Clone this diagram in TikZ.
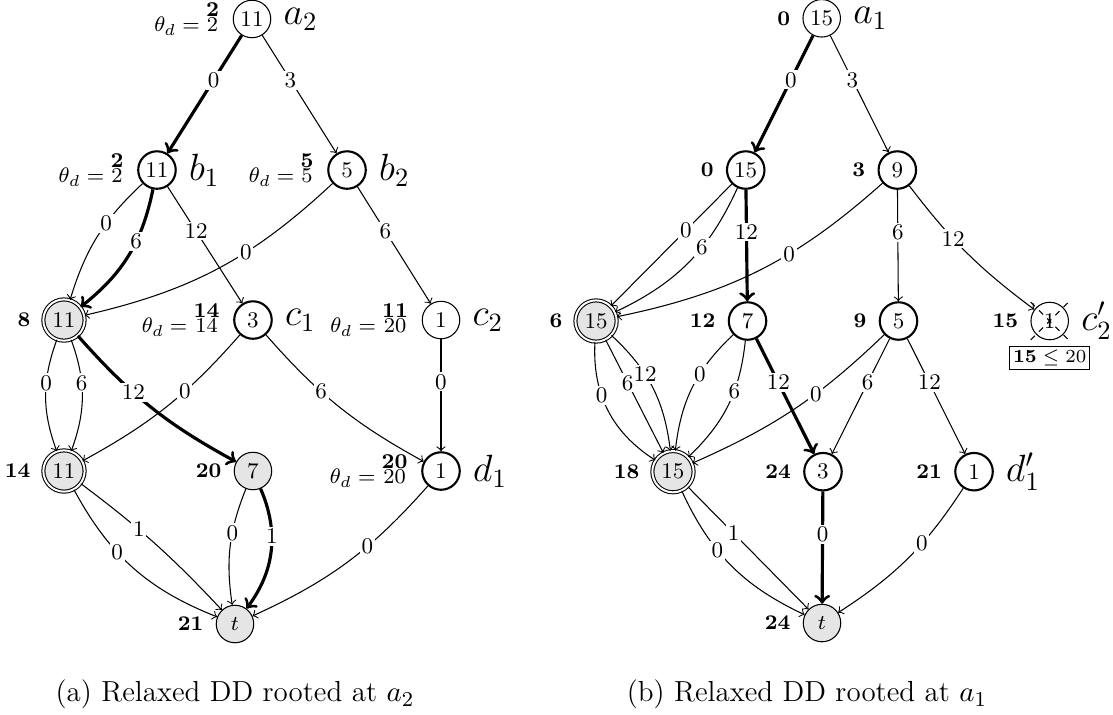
\documentclass[tikz,border=0pt]{standalone}
\usepackage{amsmath, amsfonts, amssymb}
\usetikzlibrary{shapes.misc}
\newcommand{\thd}[2]{$\theta_d={}$\vbox{\baselineskip=5.9pt\lineskiplimit=-10pt\lineskip=0pt\halign{\hfil##\hfil\cr$\mathbf{#1}$\cr$#2$\cr}}}

\begin{document}
\begin{tikzpicture}[
                vtx/.style={circle, draw, minimum size=0.5cm, inner sep=0pt, font=\fontsize{8.5}{10}\selectfont},
                vtxb/.style={vtx, thick},
                vtxg/.style={vtx, fill=gray!20},
                vtxd/.style={vtx, minimum size=0.55cm, double, double distance=0.75pt, fill=gray!20},
                edg/.style={->},
                edgb/.style={->, very thick},
                lab/.style={fill=white, inner sep=0.7pt, pos=0.38, font=\fontsize{8.5}{10}\selectfont},
                vl/.style={font=\fontsize{7.9}{9.5}\selectfont\bfseries, inner sep=1pt, xshift=-3.5pt},
                nm/.style={font=\fontsize{14.4}{17}\selectfont, inner sep=0.5pt, xshift=4pt},
                th/.style={font=\fontsize{8}{9.5}\selectfont, inner sep=1pt, xshift=-4pt},
                bx/.style={draw, inner sep=1.3pt, font=\fontsize{6.9}{8}\selectfont}]
                \useasboundingbox (0,0) rectangle (14.84,-9.533);

                \node[vtx, label={[th]left:\thd{2}{2}}, label={[nm]right:$a_2$}] (a2) at (3.36,-0.253) {11};
                \node[vtxb, label={[th]left:\thd{2}{2}}, label={[nm]right:$b_1$}] (b1) at (2.093,-2.267) {11};
                \node[vtxb, label={[th]left:\thd{5}{5}}, label={[nm]right:$b_2$}] (b2) at (4.627,-2.267) {5};
                \node[vtxd, label={[vl]left:8}] (L8) at (0.853,-4.267) {11};
                \node[vtxb, label={[th]left:\thd{14}{14}}, label={[nm]right:$c_1$}] (c1) at (3.373,-4.267) {3};
                \node[vtx, label={[th]left:\thd{11}{20}}, label={[nm]right:$c_2$}] (c2) at (5.88,-4.267) {1};
                \node[vtxd, label={[vl]left:14}] (L14) at (0.853,-6.28) {11};
                \node[vtxg, label={[vl]left:20}] (L20) at (3.373,-6.28) {7};
                \node[vtxb, label={[th]left:\thd{20}{20}}, label={[nm]right:$d_1$}] (d1) at (5.88,-6.28) {1};
                \node[vtxg, label={[vl]left:21}] (tL) at (3.133,-8.32) {$t$};

                \draw[edgb] (a2) -- node[lab]{0} (b1);
                \draw[edg] (a2) -- node[lab]{3} (b2);
                \draw[edg] (b1) to[bend right=15] node[lab]{0} (L8);
                \draw[edgb] (b1) to[bend left=20] node[lab]{6} (L8);
                \draw[edg] (b1) -- node[lab]{12} (c1);
                \draw[edg] (b2) to[bend left=15] node[lab]{0} (L8);
                \draw[edg] (b2) -- node[lab]{6} (c2);
                \draw[edg] (L8) to[bend right=20] node[lab]{0} (L14);
                \draw[edg] (L8) to[bend left=20] node[lab]{6} (L14);
                \draw[edgb] (L8) to[bend right=10] node[lab]{12} (L20);
                \draw[edg] (c1) to[bend left=10] node[lab]{0} (L14);
                \draw[edg] (c1) to[bend right=10] node[lab]{6} (d1);
                \draw[edg] (c2) -- node[lab]{0} (d1);
                \draw[edg] (L14) to[bend right=20] node[lab]{0} (tL);
                \draw[edg] (L14) to[bend left=5] node[lab]{1} (tL);
                \draw[edg] (L20) to[bend right=15] node[lab]{0} (tL);
                \draw[edgb] (L20) to[bend left=30] node[lab]{1} (tL);
                \draw[edg] (d1) to[bend left=12] node[lab]{0} (tL);

                \node[vtx, label={[vl]left:0}, label={[nm]right:$a_1$}] (a1) at (10.956,-0.244) {15};
                \node[vtxb, label={[vl]left:0}] (r0) at (9.943,-2.267) {15};
                \node[vtxb, label={[vl]left:3}] (r3) at (11.964,-2.267) {9};
                \node[vtxd, label={[vl]left:6}] (r6) at (7.947,-4.28) {15};
                \node[vtxb, label={[vl]left:12}] (r12) at (9.967,-4.28) {7};
                \node[vtxb, label={[vl]left:9}] (r9) at (11.98,-4.28) {5};
                \node[vtx, label={[vl]left:15}, label={[nm]right:$c_2'$}] (r15) at (13.996,-4.28) {1};
                \node[cross out, draw, dash pattern=on 2.2pt off 2.2pt, minimum size=0.49cm, inner sep=0pt] (r15x) at (r15) {};
                \node[bx] (r15b) at (13.996,-4.777) {$\mathbf{15}\le 20$};
                \node[vtxd, label={[vl]left:18}] (r18) at (8.973,-6.289) {15};
                \node[vtxb, label={[vl]left:24}] (r24) at (10.973,-6.289) {3};
                \node[vtxb, label={[vl]left:21}, label={[nm]right:$d_1'$}] (r21) at (12.987,-6.289) {1};
                \node[vtxg, label={[vl]left:24}] (tR) at (10.96,-8.307) {$t$};

                \draw[edgb] (a1) -- node[lab]{0} (r0);
                \draw[edg] (a1) -- node[lab]{3} (r3);
                \draw[edg] (r0) -- node[lab]{0} (r6);
                \draw[edg] (r0) to[bend left=20] node[lab]{6} (r6);
                \draw[edgb] (r0) -- node[lab]{12} (r12);
                \draw[edg] (r3) to[bend left=15] node[lab]{0} (r6);
                \draw[edg] (r3) -- node[lab]{6} (r9);
                \draw[edg] (r3) to[bend right=8] node[lab]{12} (r15);
                \draw[edg] (r6) to[bend right=30] node[lab]{0} (r18);
                \draw[edg] (r6) -- node[lab]{6} (r18);
                \draw[edg] (r6) to[bend left=20] node[lab]{12} (r18);
                \draw[edg] (r12) to[bend right=20] node[lab]{0} (r18);
                \draw[edg] (r12) to[bend left=20] node[lab]{6} (r18);
                \draw[edgb] (r12) -- node[lab]{12} (r24);
                \draw[edg] (r9) to[bend left=10] node[lab]{0} (r18);
                \draw[edg] (r9) -- node[lab]{6} (r24);
                \draw[edg] (r9) -- node[lab]{12} (r21);
                \draw[edg] (r18) to[bend right=20] node[lab]{0} (tR);
                \draw[edg] (r18) -- node[lab]{1} (tR);
                \draw[edgb] (r24) -- node[lab]{0} (tR);
                \draw[edg] (r21) to[bend left=12] node[lab]{0} (tR);

                \node[font=\fontsize{11}{13}\selectfont, anchor=base] (capa) at (3.133,-9.356) {(a) Relaxed DD rooted at $a_2$};
                \node[font=\fontsize{11}{13}\selectfont, anchor=base] (capb) at (10.76,-9.356) {(b) Relaxed DD rooted at $a_1$};
\end{tikzpicture}
\end{document}
